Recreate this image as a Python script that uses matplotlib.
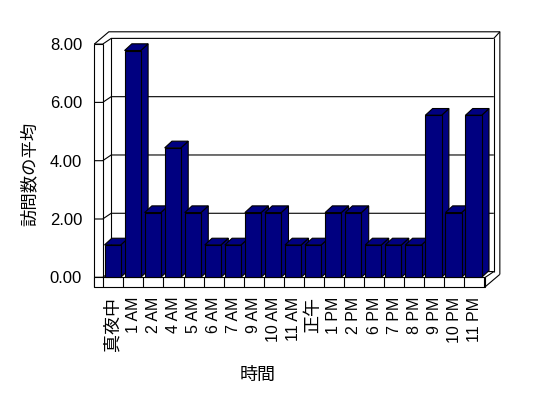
import matplotlib
matplotlib.use("Agg")
import matplotlib.pyplot as plt
from matplotlib.patches import Polygon
import numpy as np

plt.rcParams['font.family'] = ['Liberation Sans', 'Noto Sans CJK JP', 'DejaVu Sans']

# data
hours = ['真夜中', '1 AM', '2 AM', '4 AM', '5 AM', '6 AM', '7 AM', '9 AM', '10 AM',
         '11 AM', '正午', '1 PM', '2 PM', '6 PM', '7 PM', '8 PM', '9 PM', '10 PM', '11 PM']
visits = [1.11, 7.78, 2.22, 4.44, 2.22, 1.11, 1.11, 2.22, 2.22,
          1.11, 1.11, 2.22, 2.22, 1.11, 1.11, 1.11, 5.56, 2.22, 5.56]
yticks = [0, 2, 4, 6, 8]
ytick_labels = ['0.00', '2.00', '4.00', '6.00', '8.00']

bar_color = '#000080'
lw = 0.8

fig = plt.figure(figsize=(5.48, 3.98), dpi=100)
ax = fig.add_axes([0.1885, 0.3033, 0.6953, 0.5859])
n = len(hours)
ymax = yticks[-1]
ax.set_xlim(0, n)
ax.set_ylim(0, ymax)
for s in ax.spines.values():
    s.set_visible(False)

# 3d box geometry in data units
dx, dy = 0.424, 0.196      # floor depth
tx, ty = 0.30, 0.226       # wall thickness
wl, wi = -0.449, -0.03     # left wall outer / inner x
fb = -0.322                # floor bottom
xr = n + 0.05              # floor right front


def line(xs, ys, z=1):
    ax.plot(xs, ys, color='black', lw=lw, clip_on=False, zorder=z,
            solid_capstyle='butt')


# back wall front face
line([wi + dx, wi + dx], [dy, ymax + dy])
line([xr + dx, xr + dx], [dy, ymax + dy])
for v in yticks:
    line([wl, wi, wi + dx, xr + dx], [v, v, v + dy, v + dy])
# outer edges of the walls
line([wl, wl], [fb, ymax])
line([wl, wi], [ymax, ymax])
line([wi, wi], [0, ymax])
line([wl, wl + dx + tx, xr + dx + tx, xr + dx + tx],
     [ymax, ymax + dy + ty, ymax + dy + ty, fb + dy + ty])
line([xr + dx, xr + dx + tx], [ymax + dy, ymax + dy + ty])
line([xr, xr + dx + tx], [fb, fb + dy + ty])
line([xr, xr + dx], [0, dy])

# floor front face with category separators
ax.add_patch(Polygon([(wl, fb), (xr, fb), (xr, 0), (wl, 0)], closed=True,
                     facecolor='white', edgecolor='black', lw=lw,
                     clip_on=False, zorder=2))
for i in range(n + 1):
    line([i, i], [fb, 0], z=3)

# bars
x0, bw = 0.06, 0.81
bdx, bdy = 0.364, 0.23
for i, v in enumerate(visits):
    xa = i + x0
    xb = xa + bw
    z = 10 + i
    front = [(xa, 0), (xb, 0), (xb, v), (xa, v)]
    top = [(xa, v), (xb, v), (xb + bdx, v + bdy), (xa + bdx, v + bdy)]
    side = [(xb, 0), (xb + bdx, bdy), (xb + bdx, v + bdy), (xb, v)]
    for poly in (side, top, front):
        ax.add_patch(Polygon(poly, closed=True, facecolor=bar_color,
                             edgecolor='black', lw=lw, clip_on=False,
                             zorder=z))

ax.set_yticks(yticks)
ax.set_yticklabels(ytick_labels, fontsize=12)
ax.set_xticks(np.arange(n) + 0.5)
ax.set_xticklabels(hours, rotation=90, fontsize=11.5)
# the kanji labels are drawn a bit bigger in the original
for lab in ax.get_xticklabels():
    if not lab.get_text()[0].isdigit():
        lab.set_fontsize(13)
ax.tick_params(axis='y', length=0, pad=15.3)
ax.tick_params(axis='x', length=0, pad=14.0)

fig.text(29 / 548, 1 - 174 / 398, '訪問数の平均', rotation=90,
         ha='center', va='center', fontsize=12.5)
fig.text(258 / 548, 1 - 375 / 398, '時間', ha='center', va='center',
         fontsize=13)

fig.savefig('out.png', dpi=100)
